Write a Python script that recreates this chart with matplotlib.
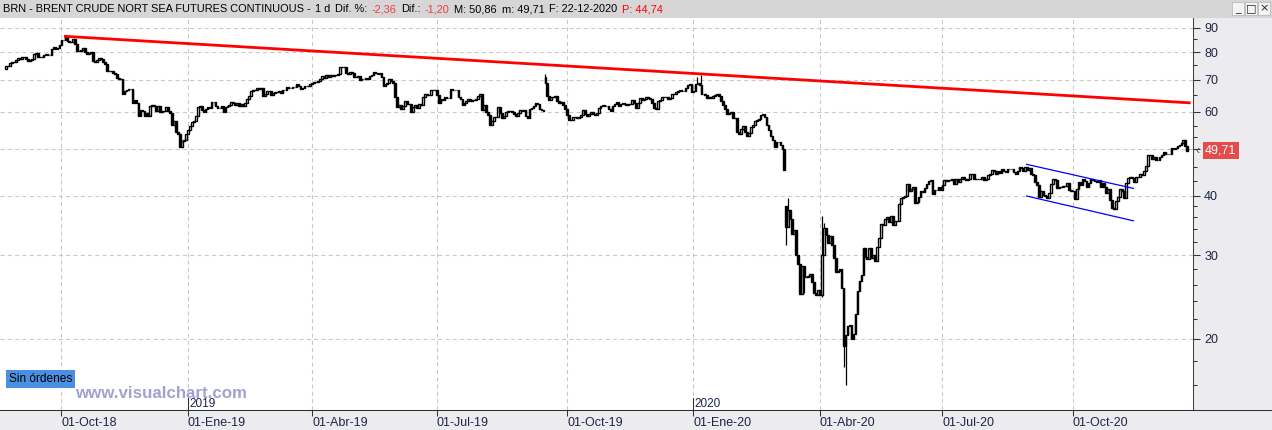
import matplotlib
matplotlib.use("Agg")
import matplotlib.pyplot as plt
import matplotlib.transforms as mtrans
from matplotlib.patches import Rectangle
from matplotlib.lines import Line2D
from matplotlib.ticker import NullFormatter
import numpy as np

plt.rcParams['font.family'] = ['Liberation Sans', 'DejaVu Sans']

# daily closes, one row per month (22-Aug-2018 .. 22-Dec-2020)
close = [
    74.78, 74.73, 75.82, 76.21, 76.31, 77.14, 77.77, 77.42,  # ago-18
    78.15, 78.17, 77.27, 76.50, 76.83, 77.37, 79.06, 79.74, 78.18, 78.09, 78.05, 79.03, 79.40, 78.70, 78.80, 81.20, 81.87, 81.34, 81.72, 82.72,
    84.98, 84.80, 86.29, 84.58, 84.16, 83.91, 85.00, 83.09, 80.26, 80.43, 80.78, 81.41, 80.05, 79.29, 79.78, 79.83, 76.44, 76.17, 76.89, 77.62, 77.34, 76.31, 75.47,
    72.89, 72.83, 73.17, 72.13, 72.07, 70.65, 70.18, 70.12, 65.47, 66.12, 66.62, 66.76, 66.79, 62.53, 63.48, 62.60, 58.80, 60.48, 60.21, 58.76, 59.51, 58.71,
    61.69, 62.08, 61.56, 60.06, 61.67, 59.97, 60.20, 60.15, 61.45, 60.28, 59.61, 56.26, 57.24, 54.35, 53.82, 50.47, 52.16, 52.20, 53.80,
    54.91, 55.95, 57.06, 57.33, 58.72, 61.44, 61.68, 60.48, 59.99, 60.64, 61.32, 61.18, 62.70, 62.74, 61.50, 61.14, 61.09, 61.64, 59.93, 61.32, 61.65, 61.89,
    62.75, 62.51, 61.98, 62.69, 61.63, 62.10, 61.51, 62.42, 63.61, 64.57, 66.25, 66.50, 66.45, 67.08, 67.07, 67.12, 64.76, 65.21, 66.39, 66.31,
    65.07, 65.67, 65.86, 65.99, 66.30, 65.74, 66.58, 66.67, 67.55, 67.23, 67.16, 67.54, 67.61, 68.50, 67.86, 67.03, 67.21, 67.97, 67.83, 67.82, 68.39,
    69.01, 69.37, 69.31, 69.40, 70.34, 71.10, 70.61, 71.73, 71.02, 71.55, 71.18, 71.72, 71.62, 71.97, 74.51, 74.57, 74.35, 72.15, 72.04, 72.80,
    72.18, 70.75, 70.85, 71.24, 69.88, 70.37, 70.39, 70.62, 70.23, 71.24, 71.77, 72.62, 72.21, 71.97, 72.18, 70.99, 67.76, 68.69, 68.80, 70.11, 69.45, 68.87, 64.49,
    61.28, 61.97, 60.63, 61.67, 63.29, 62.29, 62.29, 59.97, 61.31, 62.01, 60.94, 62.14, 61.82, 64.45, 65.20, 64.86, 65.05, 66.49, 66.55, 66.55,
    65.06, 62.40, 63.82, 63.30, 64.23, 64.11, 64.16, 67.01, 66.52, 66.72, 66.48, 64.35, 63.66, 61.93, 62.47, 63.26, 63.83, 63.18, 63.39, 63.46, 63.71, 64.72, 65.17,
    60.50, 61.89, 59.81, 58.94, 56.23, 57.38, 58.53, 58.57, 61.30, 59.48, 58.23, 58.64, 59.74, 60.03, 60.30, 59.92, 59.34, 58.70, 59.51, 60.49, 60.08, 60.43,
    58.66, 58.26, 60.70, 60.95, 61.54, 62.59, 62.38, 60.81, 60.38, 60.22, 69.02, 64.55, 63.60, 64.40, 64.28, 64.77, 63.10, 62.39, 62.74, 61.91, 60.78,
    58.89, 57.69, 57.71, 58.37, 58.35, 58.24, 58.32, 59.10, 60.51, 59.35, 58.74, 59.42, 59.91, 59.42, 58.96, 59.70, 61.17, 61.67, 62.02, 61.57, 61.59, 60.61, 60.23,
    61.69, 62.13, 62.96, 61.74, 62.29, 62.51, 62.18, 62.06, 62.37, 62.28, 63.30, 62.44, 60.91, 62.40, 63.97, 63.39, 63.65, 64.27, 64.06, 63.87, 62.43,
    60.92, 60.82, 63.00, 63.39, 64.39, 64.25, 64.34, 63.72, 64.20, 65.22, 65.34, 66.10, 66.17, 66.54, 66.14, 66.39, 67.20, 68.16, 68.44, 66.00,
    66.25, 68.60, 68.91, 68.27, 65.44, 65.37, 64.98, 64.20, 64.49, 64.00, 64.62, 64.85, 65.20, 64.59, 63.21, 62.04, 60.69, 59.32, 59.51, 59.81, 58.29, 58.16,
    54.45, 53.96, 55.28, 55.93, 54.47, 53.27, 54.01, 55.79, 56.34, 57.32, 57.67, 57.75, 59.12, 59.31, 58.50, 56.30, 54.95, 53.43, 52.18, 50.52,
    51.90, 51.86, 51.13, 49.99, 45.27, 34.36, 37.22, 35.79, 33.22, 33.85, 30.05, 28.73, 24.88, 28.47, 26.98, 27.03, 27.15, 27.39, 26.34, 24.93, 24.70, 25.30,
    24.74, 29.94, 34.11, 33.05, 31.87, 32.84, 31.48, 29.60, 27.69, 27.82, 28.08, 25.57, 19.33, 20.37, 21.33, 21.44, 19.99, 20.46, 22.54, 25.27,
    26.44, 27.20, 30.97, 29.72, 29.46, 30.97, 29.63, 29.98, 29.19, 31.13, 32.50, 34.81, 34.65, 35.75, 36.06, 35.13, 36.17, 34.74, 35.29, 35.33,
    38.32, 39.57, 39.79, 39.99, 42.30, 40.80, 41.18, 41.73, 38.55, 38.73, 39.72, 40.96, 40.71, 41.51, 42.19, 42.92, 43.08, 40.31, 41.05, 41.02, 41.71, 41.15,
    42.03, 43.14, 42.80, 43.10, 43.08, 43.29, 42.35, 43.24, 42.72, 43.29, 43.79, 43.37, 43.14, 43.28, 44.32, 44.29, 43.31, 43.34, 43.41, 43.22, 43.75, 43.01, 43.30,
    44.15, 44.43, 45.17, 45.09, 44.40, 44.99, 44.50, 45.43, 44.96, 44.80, 45.37, 45.46, 45.37, 44.90, 44.35, 45.13, 45.86, 45.64, 45.09, 45.81, 45.28,
    45.58, 44.43, 44.07, 42.66, 42.01, 39.78, 40.79, 40.06, 39.83, 39.61, 40.53, 42.22, 43.30, 43.15, 41.44, 41.72, 41.77, 41.94, 41.92, 42.43, 41.03, 40.95,
    40.93, 39.27, 41.29, 42.65, 41.99, 43.34, 42.85, 41.72, 42.45, 43.32, 43.16, 42.93, 42.62, 43.16, 41.73, 42.46, 41.77, 40.46, 41.20, 39.12, 37.65, 37.46,
    38.97, 39.71, 41.23, 40.93, 39.45, 42.40, 43.61, 43.80, 43.53, 42.78, 43.82, 43.75, 44.34, 44.20, 44.96, 46.06, 48.61, 48.61, 47.80, 48.18, 47.59,
    47.42, 48.25, 48.71, 49.25, 48.79, 48.84, 48.86, 50.25, 49.97, 50.29, 50.76, 51.08, 51.50, 52.26, 50.91, 49.71,
]
# opens are the previous close except on these gap days; extra wick extremes
open_fix = {0: 73.6, 273: 71.0, 395: 38.0}
high_fix = {273: 71.95, 350: 70.74, 352: 71.75, 396: 39.5, 413: 36.3, 414: 35.0}
low_fix = {395: 31.5, 404: 25.0, 413: 24.5, 424: 17.5, 425: 16.0}

tick_bar = [28, 92, 155, 218, 284, 348, 412, 474, 540]
tick_label = ['01-Oct-18', '01-Ene-19', '01-Abr-19', '01-Jul-19', '01-Oct-19',
              '01-Ene-20', '01-Abr-20', '01-Jul-20', '01-Oct-20']
year_bar = [92, 348]
year_label = ['2019', '2020']
y_major = [20, 30, 40, 50, 60, 70, 80, 90]
y_major_label = ['20', '30', '40', '', '60', '70', '80', '90']
y_minor = [16, 18, 22, 24, 26, 28, 32, 34, 36, 38, 43, 46, 53, 56, 65, 75, 85]

red_bar = [30, 599]
red_price = [86.3, 62.6]
blue_up_bar = [516.7, 570.7]
blue_up_price = [46.5, 41.4]
blue_lo_bar = [516.7, 570.7]
blue_lo_price = [39.9, 35.4]
last_price = 49.71

header = [('BRN - BRENT CRUDE NORT SEA FUTURES CONTINUOUS -', 'black'), ('1 d', 'black'),
          ('Dif. %:', 'black'), ('-2,36', '#e8413c'), ('Dif.:', 'black'), ('-1,20', '#e8413c'),
          ('M: 50,86', 'black'), ('m: 49,71', 'black'), ('F: 22-12-2020', 'black'),
          ('P: 44,74', '#ff0000')]

W, H = 1272, 430
NAVY = '#1c2544'
fig = plt.figure(figsize=(W / 100, H / 100), dpi=100, facecolor='#ececf0')
ax = fig.add_axes([0, 20 / H, 1193 / W, 392 / H])
ax.set_facecolor('white')
ax.set_yscale('log')
ax.set_xlim(-3.1, 600.9)
ax.set_ylim(14.19, 94.3)

# candles
c = np.array(close)
o = np.r_[c[0], c[:-1]]
for k, v in open_fix.items():
    o[k] = v
body_lo = np.minimum(o, c)
body_hi = np.maximum(o, c)
lo = body_lo.copy()
hi = body_hi.copy()
for k, v in high_fix.items():
    hi[k] = v
for k, v in low_fix.items():
    lo[k] = v
x = np.arange(len(c))
up = c >= o
ax.vlines(x, lo, hi, color='black', lw=0.9, zorder=3)
ax.bar(x[up], body_hi[up] - body_lo[up], bottom=body_lo[up], width=0.85,
       facecolor='white', edgecolor='black', linewidth=1.0, zorder=4)
ax.bar(x[~up], body_hi[~up] - body_lo[~up], bottom=body_lo[~up], width=0.85,
       facecolor='black', edgecolor='black', linewidth=1.0, zorder=4)

# trend lines
ax.plot(red_bar, red_price, color='#ff0000', lw=2.0, zorder=5)
ax.plot(blue_up_bar, blue_up_price, color='#0000ff', lw=0.9, zorder=5)
ax.plot(blue_lo_bar, blue_lo_price, color='#0000ff', lw=0.9, zorder=5)

# axes styling
ax.grid(True, which='major', color='#c8c8c8', linestyle=(0, (4, 3)), linewidth=0.75, zorder=0)
ax.set_axisbelow(True)
ax.yaxis.tick_right()
ax.set_yticks(y_major, labels=y_major_label)
ax.set_yticks(y_minor, minor=True)
ax.yaxis.set_minor_formatter(NullFormatter())
ax.tick_params(axis='y', which='major', length=5, width=0.75, color='#333333',
               labelsize=9, labelcolor=NAVY, pad=3)
ax.tick_params(axis='y', which='minor', length=2.6, width=0.75, color='#333333')
ax.set_xticks(tick_bar, labels=tick_label)
ax.tick_params(axis='x', length=4.3, width=0.75, color='#333333', labelsize=9,
               labelcolor=NAVY, pad=0.5)
for lab in ax.get_xticklabels():
    lab.set_ha('left')
for s in ('top', 'left'):
    ax.spines[s].set_visible(False)
ax.spines['right'].set_color('#404040')
ax.spines['right'].set_linewidth(0.75)
ax.spines['bottom'].set_color('#303030')
ax.spines['bottom'].set_linewidth(0.75)

# year markers
tr = mtrans.blended_transform_factory(ax.transData, ax.transAxes)
for b, lab in zip(year_bar, year_label):
    ax.plot([b, b], [0, 0.03], color='#303030', lw=0.75, transform=tr, clip_on=False)
    ax.text(b + 0.6, 0.0, lab, transform=tr, fontsize=8.5, color=NAVY, va='bottom', ha='left')

# last price tag
tr_y = mtrans.blended_transform_factory(ax.transAxes, ax.transData)
ax.text(1.0102, last_price, '49,71', transform=tr_y, fontsize=9, color='white',
        va='center', ha='left', bbox=dict(facecolor='#e54b4b', edgecolor='none', pad=1.8))
ax.text(1.0022, last_price, '‹', transform=tr_y, fontsize=9, color='#555555',
        va='center', ha='left')

# bottom rule across the price panel
fig.add_artist(Line2D([1193 / W, 1], [20 / H, 20 / H], transform=fig.transFigure,
                      color='#303030', lw=0.75))

# header bar, pieces laid out one after another
fig.add_artist(Rectangle((0, 1 - 18 / H), 1, 18 / H, transform=fig.transFigure,
                         facecolor='#d6d6d6', edgecolor='none'))
renderer = fig.canvas.get_renderer()
px = 3
for txt, col in header:
    t = fig.text(px / W, 1 - 9 / H, txt, fontsize=7.9, color=col, va='center', ha='left')
    px += t.get_window_extent(renderer).width + 4.5

# window buttons
for bx, sym in [(1232, '_'), (1245, '□'), (1258, '×')]:
    fig.add_artist(Rectangle((bx / W, 1 - 15 / H), 12 / W, 13 / H, transform=fig.transFigure,
                             facecolor='#f4f4f4', edgecolor='#bcbcbc', lw=0.6))
    fig.text((bx + 6) / W, 1 - 8.5 / H, sym, fontsize=8, color='#222222', ha='center',
             va='center', family=['DejaVu Sans'])

# overlays
fig.text(9 / W, 1 - 379 / H, 'Sin órdenes', fontsize=8.6, color='black', va='center', ha='left',
         bbox=dict(facecolor='#4a90e2', edgecolor='none', pad=2.2))
fig.text(75 / W, 1 - 393 / H, 'www.visualchart.com', fontsize=12.2, fontweight='bold',
         color='#a2a2d2', va='center', ha='left')

fig.savefig('out.png', dpi=100, facecolor=fig.get_facecolor())
